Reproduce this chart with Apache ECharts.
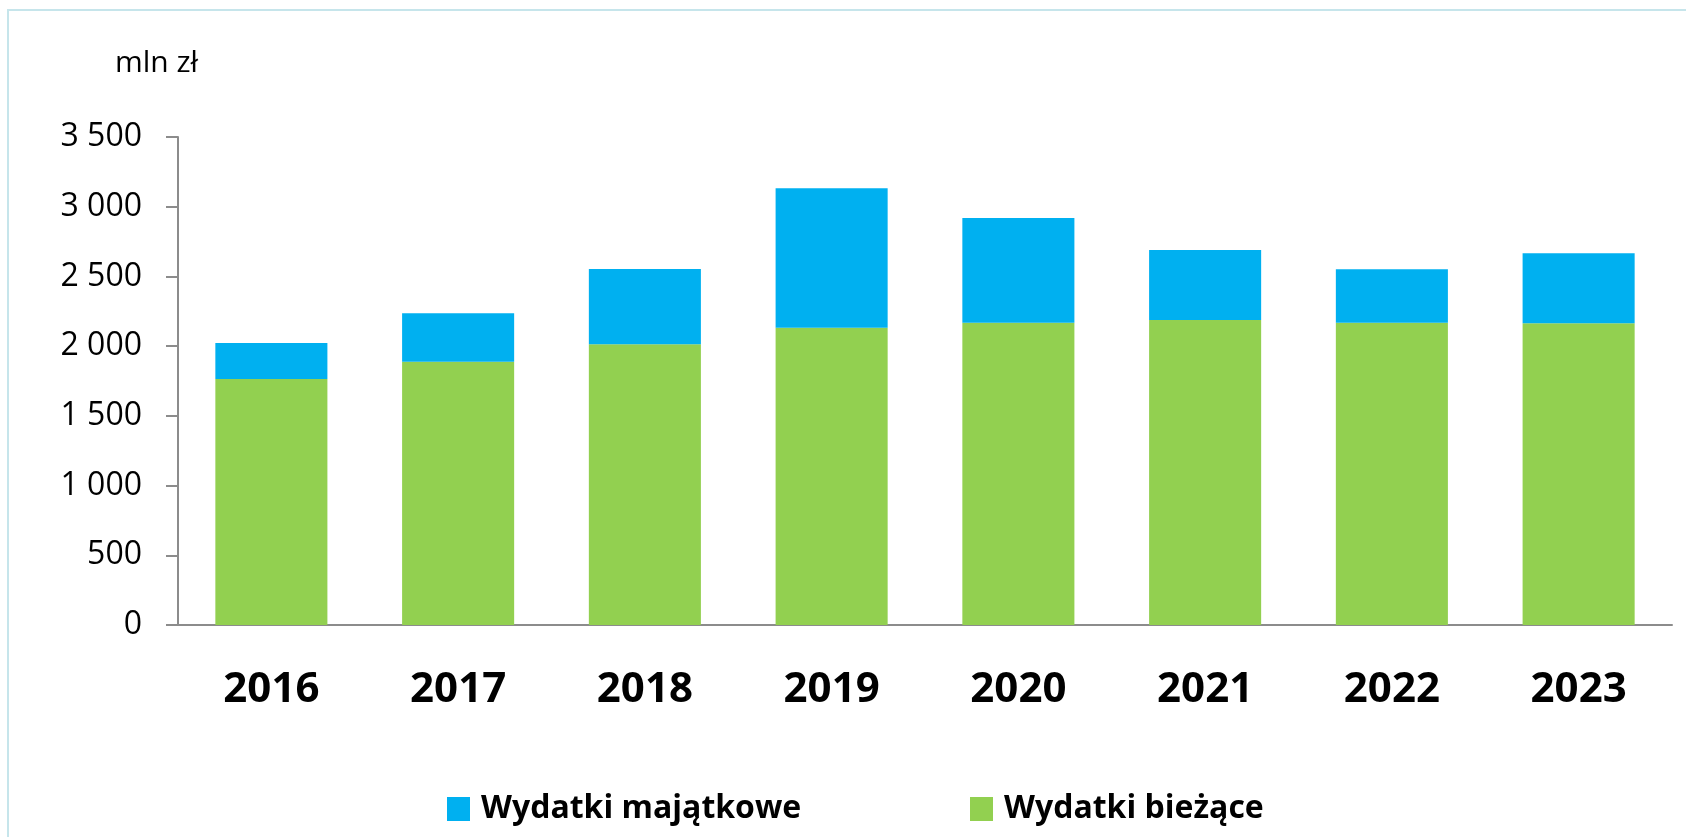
<!DOCTYPE html>
<html>
<head>
<meta charset="utf-8">
<script src="https://cdn.jsdelivr.net/npm/echarts@6/dist/echarts.min.js"></script>
<style>
  html, body { margin: 0; padding: 0; background: #fff; }
  #chart { width: 1686px; height: 837px; }
</style>
</head>
<body>
<div id="chart"></div>
<script>
// Data (mln zł)
var years = ['2016', '2017', '2018', '2019', '2020', '2021', '2022', '2023'];
var biezace = [1764, 1888, 2013, 2132, 2168, 2187, 2168, 2164];
var majatkowe = [259, 348, 540, 1000, 751, 503, 383, 502];
var yTicks = [0, 500, 1000, 1500, 2000, 2500, 3000, 3500];

var axisColor = '#8c8c8c';

// "3 500" style thousands separator
function fmt(v) {
    if (v < 1000) return String(v);
    var rest = String(v % 1000);
    while (rest.length < 3) rest = '0' + rest;
    return Math.floor(v / 1000) + ' ' + rest;
}

var legendText = {
    fontFamily: 'Open Sans',
    fontWeight: 'bold',
    fontSize: 32,
    lineHeight: 32,
    color: '#000',
    padding: [0, 0, 0, 6]
};

var myChart = echarts.init(document.getElementById('chart'));

myChart.setOption({
    backgroundColor: '#fff',
    animation: false,
    grid: {
        left: 178,
        right: 14,
        top: 137,
        bottom: 212
    },
    graphic: [
        {
            // light frame around the chart area
            type: 'rect',
            shape: { x: 8, y: 10, width: 1720, height: 900 },
            style: { fill: 'none', stroke: '#c6e5eb', lineWidth: 2 },
            silent: true
        },
        {
            type: 'text',
            left: 115,
            top: 48,
            style: {
                text: 'mln zł',
                fontFamily: 'Open Sans',
                fontSize: 30,
                fill: '#000'
            }
        }
    ],
    // two legends so each item sits where it does in the original
    legend: [
        {
            left: 447,
            top: 793,
            padding: 0,
            itemWidth: 23,
            itemHeight: 24,
            icon: 'rect',
            data: ['Wydatki majątkowe'],
            textStyle: legendText
        },
        {
            left: 970,
            top: 793,
            padding: 0,
            itemWidth: 23,
            itemHeight: 24,
            icon: 'rect',
            data: ['Wydatki bieżące'],
            textStyle: legendText
        }
    ],
    xAxis: {
        type: 'category',
        data: years,
        axisLine: { lineStyle: { color: axisColor, width: 2 } },
        axisTick: { length: 15, lineStyle: { color: axisColor, width: 2 } },
        axisLabel: {
            margin: 44,
            color: '#000',
            fontFamily: 'Open Sans',
            fontWeight: 'bold',
            fontSize: 42
        }
    },
    yAxis: {
        type: 'value',
        min: yTicks[0],
        max: yTicks[yTicks.length - 1],
        interval: 500,
        splitLine: { show: false },
        axisLine: { show: true, lineStyle: { color: axisColor, width: 2 } },
        axisTick: { show: true, length: 12, lineStyle: { color: axisColor, width: 2 } },
        axisLabel: {
            margin: 36,
            color: '#000',
            fontFamily: 'Open Sans',
            fontSize: 32,
            formatter: fmt
        }
    },
    series: [
        {
            name: 'Wydatki bieżące',
            type: 'bar',
            stack: 'total',
            barWidth: '60%',
            data: biezace,
            itemStyle: { color: '#92d050' }
        },
        {
            name: 'Wydatki majątkowe',
            type: 'bar',
            stack: 'total',
            barWidth: '60%',
            data: majatkowe,
            itemStyle: { color: '#00b0f0' }
        }
    ]
});
</script>
</body>
</html>
